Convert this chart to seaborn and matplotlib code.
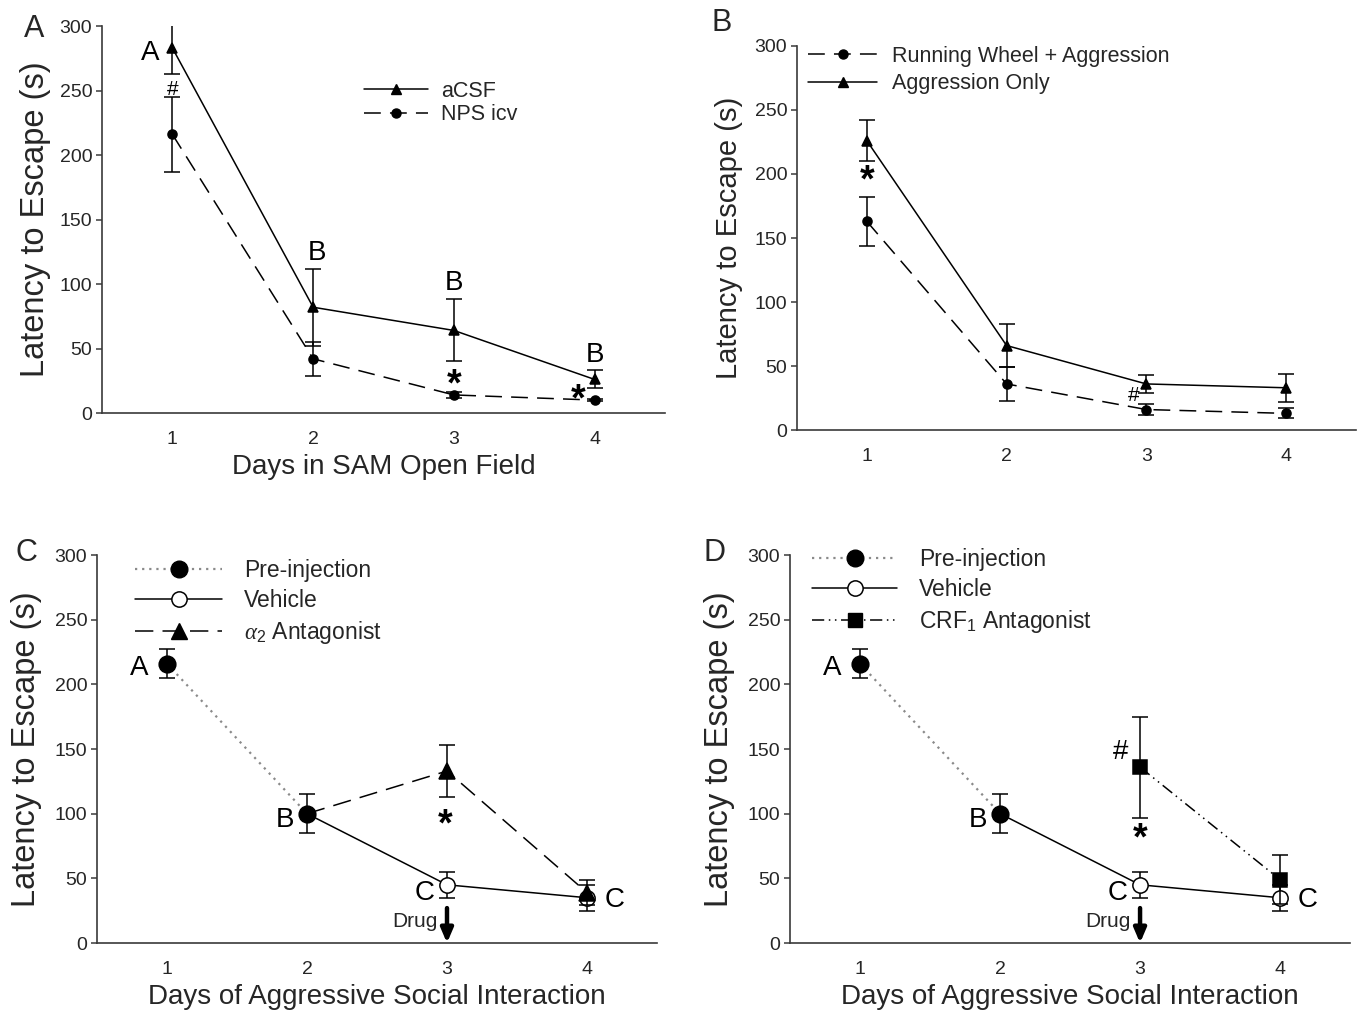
import numpy as np
import pandas as pd
import seaborn as sns
import matplotlib
matplotlib.use("Agg")
import matplotlib.pyplot as plt
from matplotlib.lines import Line2D

# ---------------- data ----------------
days = [1, 2, 3, 4]
# Panel A
a_acsf = [283, 82, 64, 26]
a_acsf_err = [20, 30, 24, 7]
a_nps = [216, 42, 14, 10]
a_nps_err = [29, 13, 2, 1]
# Panel B
b_wheel = [163, 36, 16, 13]
b_wheel_err = [19, 13, 4, 4]
b_aggr = [226, 66, 36, 33]
b_aggr_err = [16, 17, 7, 11]
# Panels C and D (shared pre-injection / vehicle)
pre_days = [1, 2]
pre = [216, 100]
pre_err = [11, 15]
veh_days = [2, 3, 4]
veh = [100, 45, 35]
veh_err = [0, 10, 10]
alpha_days = [2, 3, 4]
alpha = [100, 133, 39]
alpha_err = [0, 20, 10]
crf_days = [3, 4]
crf = [136, 49]
crf_err = [39, 19]

xlabels = ["Days in SAM Open Field", "", "Days of Aggressive Social Interaction",
           "Days of Aggressive Social Interaction"]
ylabel = "Latency to Escape (s)"

# ---------------- style ----------------
sns.set_theme(style="white")
plt.rcParams['font.family'] = ['Liberation Sans', 'DejaVu Sans']
plt.rcParams['mathtext.fontset'] = 'custom'
plt.rcParams['mathtext.rm'] = 'Liberation Sans'
plt.rcParams['mathtext.it'] = 'Liberation Serif:italic'

SPINE = '#3a3a3a'
fig = plt.figure(figsize=(13.6, 10.13), dpi=100)

axA = fig.add_axes([0.0750, 0.5923, 0.4140, 0.3820])
axB = fig.add_axes([0.5860, 0.5755, 0.4110, 0.3791])
axC = fig.add_axes([0.0713, 0.0691, 0.4118, 0.3830])
axD = fig.add_axes([0.5809, 0.0691, 0.4118, 0.3830])


def series(ax, x, y, err, ls, marker, ms, mfc, color='black', lw=1.1,
           markevery=None, z=3):
    df = pd.DataFrame({"day": x, "lat": y})
    sns.lineplot(data=df, x="day", y="lat", ax=ax, color=color, linestyle=ls,
                 lw=lw, marker=marker, markersize=ms, markerfacecolor=mfc,
                 markeredgecolor='black', markeredgewidth=1.1,
                 markevery=markevery, zorder=z, estimator=None, legend=False)
    xe = [xi for xi, e in zip(x, err) if e > 0]
    ye = [yi for yi, e in zip(y, err) if e > 0]
    ee = [e for e in err if e > 0]
    if ee:
        ax.errorbar(xe, ye, yerr=ee, fmt='none', ecolor='black', elinewidth=1.1,
                    capsize=6, capthick=1.1, zorder=z - 0.5)


def style_axes(ax, xlabel, ysize, ycoords):
    ax.set_xlim(0.5, 4.5)
    ax.set_ylim(0, 300)
    ax.set_xticks(days)
    ax.set_yticks([0, 50, 100, 150, 200, 250, 300])
    for s in ['top', 'right']:
        ax.spines[s].set_visible(False)
    for s in ['left', 'bottom']:
        ax.spines[s].set_color(SPINE)
        ax.spines[s].set_linewidth(1.2)
    ax.tick_params(axis='y', which='both', left=True, length=4, width=1.1,
                   color=SPINE, labelsize=14, pad=3)
    ax.tick_params(axis='x', bottom=False, labelsize=14, pad=7)
    ax.set_xlabel(xlabel, fontsize=20, labelpad=4)
    ax.set_ylabel(ylabel, fontsize=ysize)
    ax.yaxis.set_label_coords(*ycoords)
    ax.set_facecolor('white')


DASH = (0, (11, 6))
DOT = (0, (1, 2.2))
DDOT = (0, (8, 3, 1, 3, 1, 3))
GRAY = '#8a8a8a'
txt = dict(ha='center', va='center', color='black')
star = dict(ha='center', va='center', color='black', fontsize=27, fontweight='bold')

# ---------------- Panel A ----------------
series(axA, days, a_acsf, a_acsf_err, '-', '^', 7.5, 'black', z=4)
series(axA, days, a_nps, a_nps_err, DASH, 'o', 6.5, 'black', z=3)
style_axes(axA, xlabels[0], 23.5, (-0.09, 0.5))
hA = [Line2D([], [], color='black', lw=1.1, ls='-', marker='^', ms=7.5, mfc='black', mec='black'),
      Line2D([], [], color='black', lw=1.1, ls=DASH, marker='o', ms=6.5, mfc='black', mec='black')]
axA.legend(hA, ['aCSF', 'NPS icv'], loc='upper left', bbox_to_anchor=(0.465, 0.858),
           frameon=False, fontsize=15.5, handlelength=3.0, handletextpad=0.6,
           labelspacing=0.1, borderpad=0, borderaxespad=0)
axA.text(0.84, 279, 'A', fontsize=20, **txt)
axA.text(1.0, 251, '#', fontsize=15, **txt)
axA.text(2.03, 124, 'B', fontsize=20, **txt)
axA.text(3.0, 101, 'B', fontsize=20, **txt)
axA.text(4.0, 45, 'B', fontsize=20, **txt)
axA.text(3.0, 21, '*', **star)
axA.text(3.88, 10, '*', **star)

# ---------------- Panel B ----------------
series(axB, days, b_wheel, b_wheel_err, DASH, 'o', 6.5, 'black', z=3)
series(axB, days, b_aggr, b_aggr_err, '-', '^', 7.5, 'black', z=4)
style_axes(axB, xlabels[1], 21, (-0.097, 0.5))
hB = [Line2D([], [], color='black', lw=1.1, ls=DASH, marker='o', ms=6.5, mfc='black', mec='black'),
      Line2D([], [], color='black', lw=1.1, ls='-', marker='^', ms=7.5, mfc='black', mec='black')]
axB.legend(hB, ['Running Wheel + Aggression', 'Aggression Only'], loc='upper left',
           bbox_to_anchor=(0.02, 1.0), frameon=False, fontsize=15.5, handlelength=3.2,
           handletextpad=0.7, labelspacing=0.3, borderpad=0, borderaxespad=0)
axB.text(1.0, 194, '*', **star)
axB.text(2.91, 27, '#', fontsize=15, **txt)

# ---------------- Panels C and D ----------------
for ax in (axC, axD):
    series(ax, veh_days, veh, veh_err, '-', 'o', 11, 'white', markevery=[1, 2], z=4)
    series(ax, pre_days, pre, pre_err, DOT, 'o', 12, 'black', color=GRAY, lw=1.6, z=6)

series(axC, alpha_days, alpha, alpha_err, (0, (12, 6)), '^', 11, 'black', markevery=[1, 2], z=5)
series(axD, crf_days, crf, crf_err, DDOT, 's', 10, 'black', z=5)

style_axes(axC, xlabels[2], 23.5, (-0.098, 0.5))
style_axes(axD, xlabels[3], 23.5, (-0.098, 0.5))

h_pre = Line2D([], [], color=GRAY, lw=1.6, ls=DOT, marker='o', ms=12, mfc='black', mec='black')
h_veh = Line2D([], [], color='black', lw=1.1, ls='-', marker='o', ms=11, mfc='white', mec='black', mew=1.1)
h_alpha = Line2D([], [], color='black', lw=1.1, ls=(0, (12, 6)), marker='^', ms=11, mfc='black', mec='black')
h_crf = Line2D([], [], color='black', lw=1.1, ls=DDOT, marker='s', ms=10, mfc='black', mec='black')

axC.legend([h_pre, h_veh, h_alpha], ['Pre-injection', 'Vehicle', r'$\alpha_2$ Antagonist'],
           loc='upper left', bbox_to_anchor=(0.068, 0.99), frameon=False, fontsize=16.5,
           handlelength=3.8, handletextpad=0.95, labelspacing=0.3, borderpad=0, borderaxespad=0)
axD.legend([h_pre, h_veh, h_crf], ['Pre-injection', 'Vehicle', r'CRF$_1$ Antagonist'],
           loc='upper left', bbox_to_anchor=(0.04, 1.017), frameon=False, fontsize=16.5,
           handlelength=3.7, handletextpad=0.95, labelspacing=0.3, borderpad=0, borderaxespad=0)

for ax in (axC, axD):
    ax.text(0.80, 213, 'A', fontsize=20, **txt)
    ax.text(1.84, 95, 'B', fontsize=20, **txt)
    ax.text(2.84, 39, 'C', fontsize=20, **txt)
    ax.text(4.2, 33, 'C', fontsize=20, **txt)
    ax.text(2.93, 17, 'Drug', fontsize=15, ha='right', va='center')
    ax.annotate('', xy=(3, 0), xytext=(3, 27),
                arrowprops=dict(arrowstyle='-|>,head_length=0.7,head_width=0.3',
                                lw=3.2, color='black', shrinkA=0, shrinkB=0),
                zorder=7)

axC.text(2.99, 91, '*', **star)
axD.text(2.86, 148, '#', fontsize=20, **txt)
axD.text(3.0, 80, '*', **star)

# panel letters
fig.text(34 / 1360, 1 - 29 / 1013, 'A', fontsize=22, ha='center', va='center')
fig.text(722 / 1360, 1 - 23 / 1013, 'B', fontsize=22, ha='center', va='center')
fig.text(26 / 1360, 1 - 553 / 1013, 'C', fontsize=22, ha='center', va='center')
fig.text(714 / 1360, 1 - 553 / 1013, 'D', fontsize=22, ha='center', va='center')

fig.savefig('out.png', dpi=100, facecolor='white')
